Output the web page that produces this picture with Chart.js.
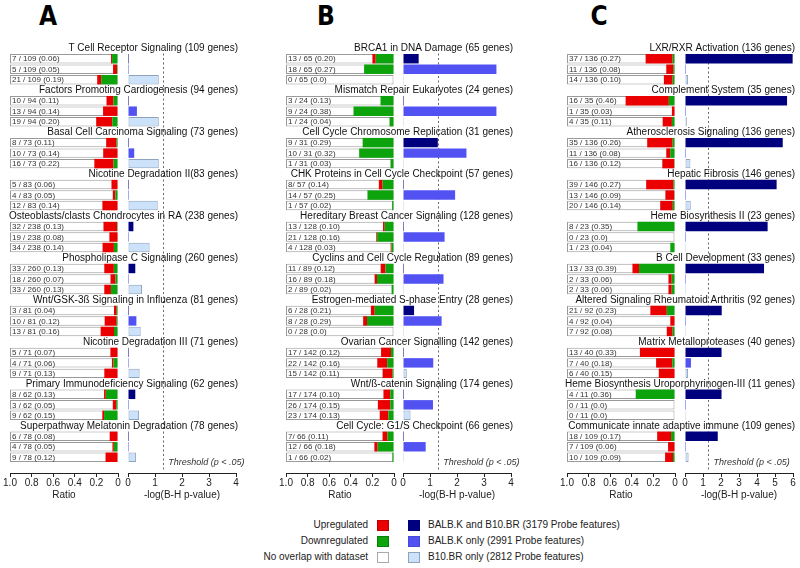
<!DOCTYPE html>
<html>
<head>
<meta charset="utf-8">
<script src="https://cdn.jsdelivr.net/npm/chart.js@4.4.1/dist/chart.umd.min.js"></script>
<style>
  body { margin: 0; background: #fff; font-family: "Liberation Sans", Arial, Helvetica, sans-serif; color: #222; }
  #page { position: relative; width: 800px; height: 568px; overflow: hidden; }
  .panel { position: absolute; top: 0; height: 510px; }
  .panel canvas { position: absolute; left: 0; top: 0; }
  .letter { position: absolute; top: 1px; width: 30px; text-align: center; font: bold 26px "Liberation Sans Narrow", "DejaVu Sans Condensed", Arial, sans-serif; color: #000; }
  .lg { position: absolute; font-size: 10px; line-height: 12px; white-space: nowrap; }
  .sq { position: absolute; width: 10px; height: 9px; border: 1px solid #888; }
</style>
</head>
<body>
<div id="page">
  <div class="letter" style="left:33px">A</div>
  <div class="letter" style="left:311px">B</div>
  <div class="letter" style="left:584px">C</div>
  <div id="panelA" class="panel"></div>
  <div id="panelB" class="panel"></div>
  <div id="panelC" class="panel"></div>
  <div id="legend"></div>
</div>
<script>
const FONT = '"Liberation Sans", Arial, Helvetica, sans-serif';
const RED = '#ea0000';
const GREEN = '#0ca30c';
const SERIES_COLORS = ['#00007f', '#5252f2', '#cce2fb'];
const SERIES_BORDERS = ['#00007f', '#4848d8', '#8fa3bd'];

const geneLegend = ['Upregulated', 'Downregulated', 'No overlap with dataset'];
const seriesLabels = ['BALB.K and B10.BR (3179 Probe features)', 'BALB.K only (2991 Probe features)', 'B10.BR only (2812 Probe features)'];

// ---- panel A ----
const aTitles = ['T Cell Receptor Signaling (109 genes)', 'Factors Promoting Cardiogenesis (94 genes)', 'Basal Cell Carcinoma Signaling (73 genes)',
  'Nicotine Degradation II(83 genes)', 'Osteoblasts/clasts Chondrocytes in RA (238 genes)', 'Phospholipase C Signaling (260 genes)',
  'Wnt/GSK-3ß Signaling in Influenza (81 genes)', 'Nicotine Degradation III (71 genes)', 'Primary Immunodeficiency Signaling (62 genes)',
  'Superpathway Melatonin Degradation (78 genes)'];
const aGenes = [109, 94, 73, 83, 238, 260, 81, 71, 62, 78];
const aRowLabels = [
  ['7 / 109 (0.06)', '5 / 109 (0.05)', '21 / 109 (0.19)'],
  ['10 / 94 (0.11)', '13 / 94 (0.14)', '19 / 94 (0.20)'],
  ['8 / 73 (0.11)', '10 / 73 (0.14)', '16 / 73 (0.22)'],
  ['5 / 83 (0.06)', '4 / 83 (0.05)', '12 / 83 (0.14)'],
  ['32 / 238 (0.13)', '19 / 238 (0.08)', '34 / 238 (0.14)'],
  ['33 / 260 (0.13)', '18 / 260 (0.07)', '33 / 260 (0.13)'],
  ['3 / 81 (0.04)', '10 / 81 (0.12)', '13 / 81 (0.16)'],
  ['5 / 71 (0.07)', '4 / 71 (0.06)', '9 / 71 (0.13)'],
  ['8 / 62 (0.13)', '3 / 62 (0.05)', '9 / 62 (0.15)'],
  ['6 / 78 (0.08)', '4 / 78 (0.05)', '9 / 78 (0.12)']];
const aUp = [[1, 4, 4], [6, 13, 14], [7, 10, 13], [5, 2, 12], [30, 18, 25], [23, 12, 16], [2, 9, 10], [5, 1, 9], [1, 2, 1], [6, 1, 9]];
const aDown = [[6, 1, 17], [4, 0, 5], [1, 0, 3], [0, 2, 0], [2, 1, 9], [10, 6, 17], [1, 1, 3], [0, 3, 0], [7, 1, 8], [0, 3, 0]];
const aLogP = [[0.03, 0.03, 1.14], [0.03, 0.33, 1.14], [0.03, 0.23, 1.14], [0.03, 0.03, 1.1], [0.2, 0.03, 0.8],
  [0.27, 0.03, 0.52], [0.03, 0.31, 0.47], [0.03, 0.03, 0.43], [0.27, 0.03, 0.41], [0.03, 0.03, 0.3]];

// ---- panel B ----
const bTitles = ['BRCA1 in DNA Damage (65 genes)', 'Mismatch Repair Eukaryotes (24 genes)', 'Cell Cycle Chromosome Replication (31 genes)',
  'CHK Proteins in Cell Cycle Checkpoint (57 genes)', 'Hereditary Breast Cancer Signaling (128 genes)', 'Cyclins and Cell Cycle Regulation (89 genes)',
  'Estrogen-mediated S-phase Entry (28 genes)', 'Ovarian Cancer Signalling (142 genes)', 'Wnt/ß-catenin Signaling (174 genes)',
  'Cell Cycle: G1/S Checkpoint (66 genes)'];
const bGenes = [65, 24, 31, 57, 128, 89, 28, 142, 174, 66];
const bRowLabels = [
  ['13 / 65 (0.20)', '18 / 65 (0.27)', '0 / 65 (0.0)'],
  ['3 / 24 (0.13)', '9 / 24 (0.38)', '1 / 24 (0.04)'],
  ['9 / 31 (0.29)', '10 / 31 (0.32)', '1 / 31 (0.03)'],
  ['8/ 57 (0.14)', '14 / 57 (0.25)', '1 / 57 (0.02)'],
  ['13 / 128 (0.10)', '21 / 128 (0.16)', '4 / 128 (0.03)'],
  ['11 / 89 (0.12)', '16 / 89 (0.18)', '2 / 89 (0.02)'],
  ['6 / 28 (0.21)', '8 / 28 (0.29)', '0 / 28 (0.0)'],
  ['17 / 142 (0.12)', '22 / 142 (0.16)', '15 / 142 (0.11)'],
  ['17 / 174 (0.10)', '26 / 174 (0.15)', '23 / 174 (0.13)'],
  ['7/ 66 (0.11)', '12 / 66 (0.18)', '1 / 66 (0.02)']];
const bUp = [[2, 0, 0], [0, 0, 0], [0, 0, 0], [2, 0, 0], [2, 1, 1], [4, 2, 0], [1, 1, 0], [13, 13, 13], [11, 20, 14], [3, 2, 0]];
const bDown = [[11, 18, 0], [3, 9, 1], [9, 10, 1], [6, 14, 1], [11, 20, 3], [7, 14, 2], [5, 7, 0], [4, 9, 2], [6, 6, 9], [4, 10, 1]];
const bLogP = [[0.58, 3.46, 0], [0.03, 3.46, 0], [1.29, 2.35, 0], [0.03, 1.93, 0], [0.03, 1.54, 0],
  [0.03, 1.5, 0], [0.41, 1.43, 0], [0.03, 1.12, 0.14], [0.03, 1.11, 0.28], [0.03, 0.84, 0]];

// ---- panel C ----
const cTitles = ['LXR/RXR Activation (136 genes)', 'Complement System (35 genes)', 'Atherosclerosis Signaling (136 genes)',
  'Hepatic Fibrosis (146 genes)', 'Heme Biosynthesis II (23 genes)', 'B Cell Development (33 genes)',
  'Altered Signaling Rheumatoid Arthritis (92 genes)', 'Matrix Metalloproteases (40 genes)',
  'Heme Biosynthesis Uroporphyrinogen-III (11 genes)', 'Communicate innate adaptive immune (109 genes)'];
const cGenes = [136, 35, 136, 146, 23, 33, 92, 40, 11, 109];
const cRowLabels = [
  ['37 / 136 (0.27)', '11 / 136 (0.08)', '14 / 136 (0.10)'],
  ['16 / 35 (0.46)', '1 / 35 (0.03)', '4 / 35 (0.11)'],
  ['35 / 136 (0.26)', '11 / 136 (0.08)', '16 / 136 (0.12)'],
  ['39 / 146 (0.27)', '13 / 146 (0.09)', '20 / 146 (0.14)'],
  ['8 / 23 (0.35)', '0 / 23 (0.0)', '1 / 23 (0.04)'],
  ['13 / 33 (0.39)', '2 / 33 (0.06)', '2 / 33 (0.06)'],
  ['21 / 92 (0.23)', '4 / 92 (0.04)', '7 / 92 (0.08)'],
  ['13 / 40 (0.33)', '7 / 40 (0.18)', '6 / 40 (0.15)'],
  ['4 / 11 (0.36)', '0 / 11 (0.0)', '0 / 11 (0.0)'],
  ['18 / 109 (0.17)', '7 / 109 (0.06)', '10 / 109 (0.09)']];
const cUp = [[34, 9, 11], [14, 1, 3], [32, 5, 15], [37, 12, 17], [0, 0, 0], [2, 1, 1], [14, 4, 5], [13, 6, 6], [0, 0, 0], [14, 7, 8]];
const cDown = [[3, 2, 3], [2, 0, 1], [3, 6, 1], [2, 1, 3], [8, 0, 1], [11, 1, 1], [7, 0, 2], [0, 1, 0], [4, 0, 0], [4, 0, 2]];
const cLogP = [[5.98, 0.03, 0.17], [5.67, 0.03, 0.1], [5.43, 0.03, 0.3], [5.09, 0.03, 0.32], [4.59, 0.03, 0],
  [4.39, 0.03, 0], [2.04, 0.05, 0], [2.03, 0.33, 0.17], [2.03, 0.03, 0], [1.82, 0.03, 0.2]];

const THRESHOLD = -Math.log10(0.05);
const AXIS_PX = 108;
const CANVAS_H = 510;

// in-bar text "n / N (ratio)"
const rowLabelPlugin = {
  id: 'rowLabels',
  afterDatasetsDraw(chart) {
    const {ctx, scales: {x, y}} = chart;
    const frame = chart.data.datasets[2].data;
    ctx.save();
    ctx.font = '8px ' + FONT;
    ctx.fillStyle = '#333';
    ctx.textAlign = 'left';
    ctx.textBaseline = 'middle';
    chart.data.labels.forEach((lab, i) => {
      if (frame[i] != null) ctx.fillText(lab, x.getPixelForValue(1) + 2, y.getPixelForValue(i) + 0.5);
    });
    ctx.restore();
  }
};

// pathway titles, threshold line and its note
const pathwayPlugin = {
  id: 'pathway',
  beforeDatasetsDraw(chart) {
    const {ctx, chartArea, scales: {x, y}} = chart;
    const px = Math.round(x.getPixelForValue(THRESHOLD)) + 0.5;
    const slot = y.getPixelForValue(1) - y.getPixelForValue(0);
    ctx.save();
    ctx.strokeStyle = '#666';
    ctx.lineWidth = 1;
    ctx.setLineDash([2, 2.5]);
    ctx.beginPath();
    ctx.moveTo(px, y.getPixelForValue(1) - slot / 2);
    ctx.lineTo(px, chartArea.bottom - 3);
    ctx.stroke();
    ctx.restore();
  },
  afterDatasetsDraw(chart, args, opts) {
    const {ctx, scales: {x, y}} = chart;
    ctx.save();
    ctx.font = '10px ' + FONT;
    ctx.fillStyle = '#111';
    ctx.textAlign = 'right';
    ctx.textBaseline = 'middle';
    opts.titles.forEach((t, g) => ctx.fillText(t, x.right + 2, y.getPixelForValue(g * 4)));
    ctx.font = 'italic 9px ' + FONT;
    ctx.fillStyle = '#333';
    ctx.textAlign = 'left';
    ctx.fillText('Threshold (p < .05)', x.getPixelForValue(THRESHOLD) + 5, y.getPixelForValue(opts.titles.length * 4 - 1) + 5);
    ctx.restore();
  }
};

function xAxis(max, step, reverse, title, fmt) {
  return {
    type: 'linear', min: 0, max: max, reverse: reverse, stacked: true,
    border: {display: true, color: '#222', width: 1},
    grid: {drawOnChartArea: false, drawTicks: true, tickLength: 4, color: '#222', tickColor: '#222'},
    ticks: {stepSize: step, autoSkip: false, maxRotation: 0, padding: 0, color: '#222',
      font: {size: 10, family: FONT}, callback: fmt},
    title: {display: true, text: title, color: '#222', font: {size: 10, family: FONT}, padding: {top: 0, bottom: 8}},
    afterFit: s => { s.height = 36; }
  };
}

function makePanel(id, geo, titles, genes, rowLabels, up, down, logP) {
  const el = document.getElementById(id);
  el.style.left = geo.left + 'px';
  el.style.width = geo.width + 'px';

  // 4 slots per pathway (title + 3 rows) and a spacer slot at the bottom
  const slots = [], downData = [], upData = [], frameData = [];
  const pData = [[], [], []];
  const pushEmpty = label => {
    slots.push(label); downData.push(null); upData.push(null); frameData.push(null);
    pData.forEach(d => d.push(null));
  };
  titles.forEach((t, g) => {
    pushEmpty(t);
    for (let r = 0; r < 3; r++) {
      slots.push(rowLabels[g][r]);
      downData.push(down[g][r] / genes[g]);
      upData.push(up[g][r] / genes[g]);
      frameData.push(1);
      pData.forEach((d, s) => d.push(s === r ? logP[g][r] : null));
    }
  });
  pushEmpty('');

  const c1 = document.createElement('canvas');
  const c2 = document.createElement('canvas');
  [c1, c2].forEach(c => { c.width = geo.width; c.height = CANVAS_H; el.appendChild(c); });

  const common = {
    indexAxis: 'y', responsive: false, animation: false, devicePixelRatio: 1,
    datasets: {bar: {barPercentage: 0.9, categoryPercentage: 1}},
  };
  const rLeft = geo.ratioX - geo.left;
  const pLeft = geo.pX - geo.left;

  new Chart(c1, {
    type: 'bar',
    data: {
      labels: slots,
      datasets: [
        {label: geneLegend[1], data: downData, backgroundColor: GREEN, borderWidth: 0, stack: 'genes', grouped: false, order: 1},
        {label: geneLegend[0], data: upData, backgroundColor: RED, borderWidth: 0, stack: 'genes', grouped: false, order: 1},
        {label: geneLegend[2], data: frameData, backgroundColor: '#fff', borderColor: '#9a9a9a', borderWidth: 1,
          borderSkipped: false, stack: 'frame', grouped: false, order: 2}
      ]
    },
    options: Object.assign({}, common, {
      layout: {padding: {left: rLeft, right: geo.width - rLeft - AXIS_PX, top: 43, bottom: 1}},
      plugins: {legend: {display: false}, tooltip: {enabled: false}},
      scales: {
        y: {display: false, stacked: true},
        x: xAxis(1, 0.2, true, 'Ratio', v => v === 0 ? '0' : v.toFixed(1))
      }
    }),
    plugins: [rowLabelPlugin]
  });

  new Chart(c2, {
    type: 'bar',
    data: {
      labels: slots,
      datasets: seriesLabels.map((name, s) => ({
        label: name, data: pData[s], backgroundColor: SERIES_COLORS[s], borderColor: SERIES_BORDERS[s],
        borderWidth: s === 2 ? 1 : 0, borderSkipped: false, grouped: false, minBarLength: 1
      }))
    },
    options: Object.assign({}, common, {
      layout: {padding: {left: pLeft, right: geo.width - pLeft - AXIS_PX, top: 43, bottom: 1}},
      plugins: {legend: {display: false}, tooltip: {enabled: false}, pathway: {titles: titles}},
      scales: {
        y: {display: false},
        x: xAxis(geo.pMax, 1, false, '-log(B-H p-value)', v => String(v))
      }
    }),
    plugins: [pathwayPlugin]
  });
}

makePanel('panelA', {left: 0, width: 262, ratioX: 10, pX: 128, pMax: 4}, aTitles, aGenes, aRowLabels, aUp, aDown, aLogP);
makePanel('panelB', {left: 266, width: 266, ratioX: 286, pX: 403, pMax: 4}, bTitles, bGenes, bRowLabels, bUp, bDown, bLogP);
makePanel('panelC', {left: 536, width: 264, ratioX: 567, pX: 685, pMax: 6}, cTitles, cGenes, cRowLabels, cUp, cDown, cLogP);

// legend (HTML)
function generateLegend() {
  const lg = document.getElementById('legend');
  const geneColors = [[RED, '#c00000'], [GREEN, '#088008'], ['#fff', '#aaa']];
  const rowY = [525, 541, 557];
  let html = '';
  for (let i = 0; i < 3; i++) {
    html += `<div class="lg" style="right:${800 - 368}px; top:${rowY[i] - 6}px">${geneLegend[i]}</div>
      <div class="sq" style="left:377px; top:${rowY[i] - 5}px; background:${geneColors[i][0]}; border-color:${geneColors[i][1]}"></div>
      <div class="sq" style="left:408px; top:${rowY[i] - 5}px; background:${SERIES_COLORS[i]}; border-color:${SERIES_BORDERS[i]}"></div>
      <div class="lg" style="left:428px; top:${rowY[i] - 6}px">${seriesLabels[i]}</div>`;
  }
  lg.innerHTML = html;
}
generateLegend();
</script>
</body>
</html>
